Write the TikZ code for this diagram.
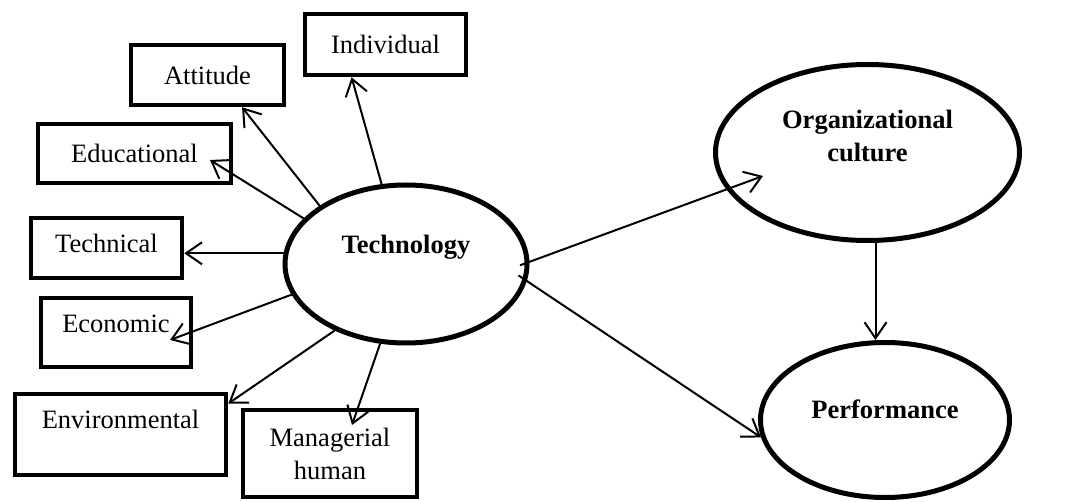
\documentclass[tikz,border=0pt]{standalone}
\usepackage{fontspec}
\setmainfont{Liberation Serif}
\usetikzlibrary{shapes.geometric,arrows.meta}
\begin{document}
\begin{tikzpicture}[x=1pt,y=-1pt,
  txt/.style={font=\fontsize{26.5}{33}\selectfont,align=center,inner sep=0pt},
  btxt/.style={txt,font=\fontsize{26.5}{33}\selectfont\bfseries},
  factor/.style={draw,line width=4.5pt,inner sep=0pt,txt},
  construct/.style={draw,ellipse,line width=5pt,inner sep=0pt},
  link/.style={line width=2pt,-{Straight Barb[length=16pt,width=22pt]}}]
\useasboundingbox (0,0) rectangle (1088,502);

% factor boxes
\node[factor,minimum width=161pt,minimum height=61pt] (ind) at (385.5,44.5) {Individual};
\node[factor,minimum width=153pt,minimum height=60pt] (att) at (207.5,75) {Attitude};
\node[factor,minimum width=193pt,minimum height=59pt] (edu) at (134.5,153.5) {Educational};
\node[factor,minimum width=151pt,minimum height=60pt,
      label={[txt,yshift=5pt]center:Technical}] (techn) at (106.5,248) {};
\node[factor,minimum width=150pt,minimum height=69pt,
      label={[txt,yshift=9pt]center:Economic}] (econ) at (116,332.5) {};
\node[factor,minimum width=211pt,minimum height=81pt,
      label={[txt,yshift=15pt]center:Environmental}] (env) at (120.5,434.5) {};
\node[factor,minimum width=174pt,minimum height=87pt] (mgr) at (330,453.5) {Managerial\\human};

% constructs
\node[construct,minimum width=242pt,minimum height=158pt,
      label={[btxt,yshift=17pt]center:Technology}] (tech) at (406,264) {};
\node[construct,minimum width=304pt,minimum height=176pt,
      label={[btxt,yshift=17pt]center:Organizational\\culture}] (org) at (867.5,152.5) {};
\node[construct,minimum width=249pt,minimum height=155pt,
      label={[btxt,yshift=11pt]center:Performance}] (perf) at (885,420) {};

% arrow ends that fall inside a shape
\coordinate (eduTip) at (210,160);
\coordinate (econTip) at (170,340);
\coordinate (mgrTip) at (352,425);
\coordinate (orgTip) at (763,176);

% connectors
\draw[link] (tech.107.8) -- (ind.-136);
\draw[link] (tech.146) -- (att.-43);
\draw[link] (tech.156) -- (eduTip);
\draw[link] (tech.175) -- (tech.175 -| techn.east);
\draw[link] (tech.195) -- (econTip);
\draw[link] (tech.223) -- (env.16);
\draw[link] (tech.252) -- (mgrTip);
\draw[link,shorten <=-10pt] (tech.1) -- (orgTip);
\draw[link,shorten <=-10pt] (tech.-8) -- (perf.188);
\draw[link] ([xshift=8pt]org.south) -- ([xshift=8pt]org.south |- perf.north);
\end{tikzpicture}
\end{document}
